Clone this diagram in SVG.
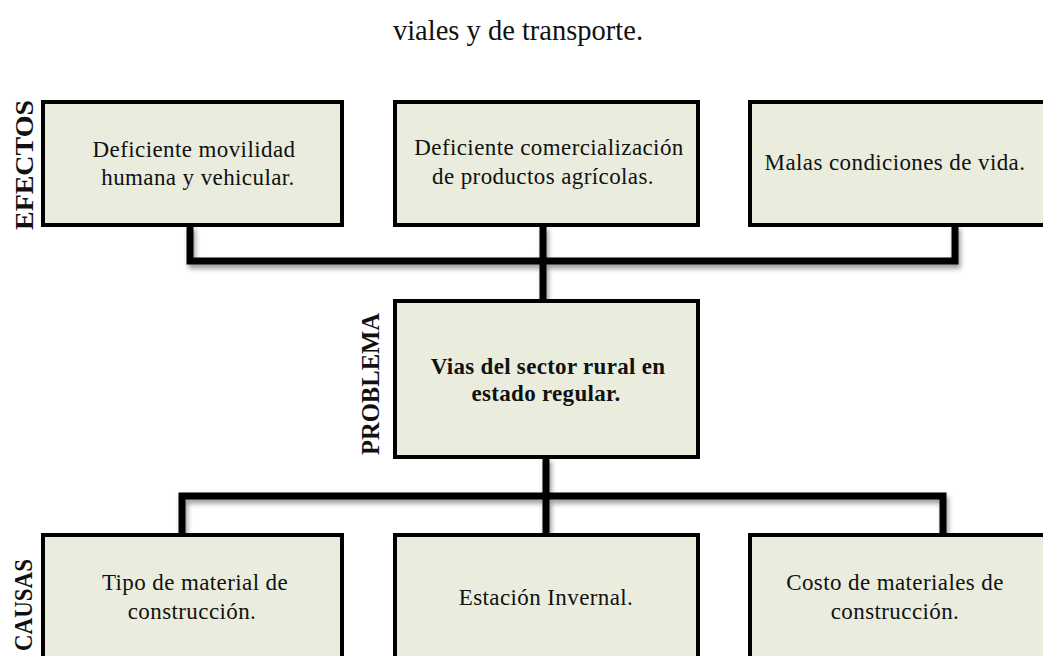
<svg xmlns="http://www.w3.org/2000/svg" width="1043" height="656" viewBox="0 0 1043 656">
<style>
.box{fill:#EAEDDE;stroke:#000;stroke-width:4}
.t{font-family:"Liberation Serif","Times New Roman",serif;font-size:23px;fill:#111;text-anchor:middle;letter-spacing:0.4px}
.b{font-weight:bold;letter-spacing:0.3px}
.lab{font-family:"Liberation Serif","Times New Roman",serif;font-size:26px;font-weight:bold;fill:#111;text-anchor:middle}
.title{font-family:"Liberation Serif","Times New Roman",serif;font-size:28.5px;fill:#111;text-anchor:middle}
.con{fill:none;stroke:#000;stroke-width:7;stroke-linecap:square;stroke-linejoin:miter}
</style>
<defs>
<filter id="sh" x="-10%" y="-50%" width="120%" height="200%">
<feDropShadow dx="2" dy="4" stdDeviation="2.5" flood-color="#000" flood-opacity="0.4"/>
</filter>
</defs>
<rect width="1043" height="656" fill="#fff"/>
<text class="title" x="518" y="40">viales y de transporte.</text>

<g id="connectors" filter="url(#sh)">
<path class="con" d="M190 229 V261 H955 V229"/>
<path class="con" d="M543 229 V299"/>
<path class="con" d="M546 461 V496"/>
<path class="con" d="M182 531 V496 H943 V531"/>
<path class="con" d="M546 496 V531"/>
</g>

<g id="label-efectos"><text class="lab" transform="translate(33,165) rotate(-90)" textLength="130" lengthAdjust="spacingAndGlyphs">EFECTOS</text></g>
<g id="label-problema"><text class="lab" transform="translate(379,384) rotate(-90)" textLength="142" lengthAdjust="spacingAndGlyphs">PROBLEMA</text></g>
<g id="label-causas"><text class="lab" transform="translate(32,605) rotate(-90)" textLength="92" lengthAdjust="spacingAndGlyphs">CAUSAS</text></g>

<g id="efecto1"><rect class="box" x="43" y="102" width="299" height="123"/>
<text class="t" x="194" y="157">Deficiente  movilidad</text>
<text class="t" x="198" y="185">humana y vehicular.</text></g>

<g id="efecto2"><rect class="box" x="395" y="102" width="303" height="123"/>
<text class="t" x="549" y="155">Deficiente comercialización</text>
<text class="t" x="543" y="184">de productos agrícolas.</text></g>

<g id="efecto3"><rect class="box" x="750" y="102" width="310" height="123"/>
<text class="t" x="895" y="170">Malas condiciones de vida.</text></g>

<g id="problema"><rect class="box" x="395" y="301" width="303" height="156"/>
<text class="t b" x="548" y="374">Vias del sector rural en</text>
<text class="t b" x="546" y="401">estado regular.</text></g>

<g id="causa1"><rect class="box" x="43" y="535" width="299" height="140"/>
<text class="t" x="195" y="590">Tipo de material de</text>
<text class="t" x="192" y="619">construcción.</text></g>

<g id="causa2"><rect class="box" x="395" y="535" width="303" height="140"/>
<text class="t" x="546" y="605">Estación Invernal.</text></g>

<g id="causa3"><rect class="box" x="750" y="535" width="310" height="140"/>
<text class="t" x="895" y="590">Costo de materiales de</text>
<text class="t" x="895" y="619">construcción.</text></g>
</svg>
